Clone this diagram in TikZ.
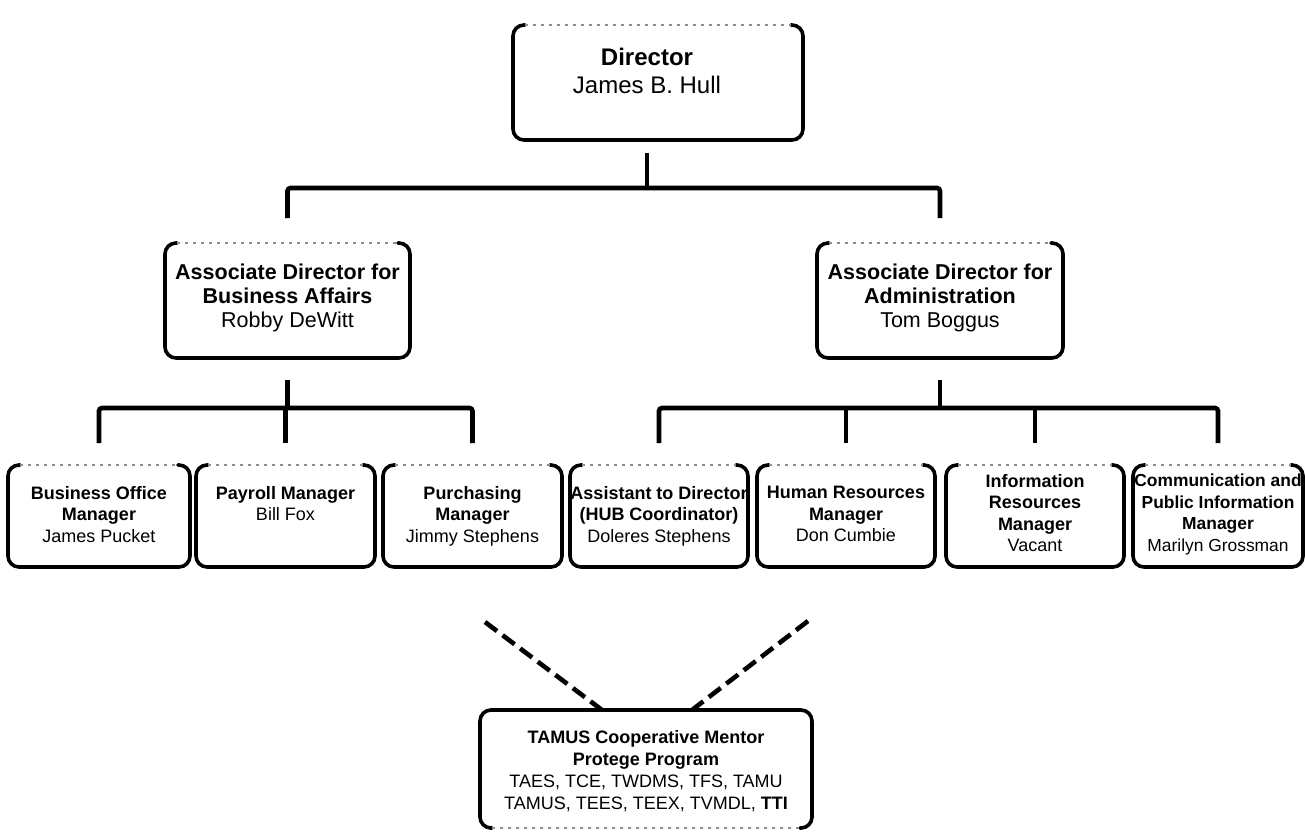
\documentclass[tikz,border=0pt]{standalone}
\usepackage{fontspec}
\setmainfont{Liberation Sans}
\usetikzlibrary{fit}
\tikzset{
  x=1pt,y=-1pt,
  boxnode/.style={draw=none,inner sep=0pt,outer sep=0pt},
  boxedge/.style={draw=black,line width=3.6pt,rounded corners=11pt,line cap=round},
  faintedge/.style={draw=black!45,line width=1.2pt,dash pattern=on 3pt off 5pt},
  conn/.style={draw=black,line width=4.6pt,rounded corners=3pt},
  dashline/.style={draw=black,line width=4.6pt,dash pattern=on 15pt off 7pt},
  txtd/.style={align=center,inner sep=0pt,anchor=north,font=\fontsize{24}{28}\selectfont},
  txta/.style={align=center,inner sep=0pt,anchor=north,font=\fontsize{21.5}{24}\selectfont},
  txtb/.style={align=center,inner sep=0pt,anchor=north,font=\fontsize{18}{21.5}\selectfont},
  txtc/.style={align=center,inner sep=0pt,anchor=north,font=\fontsize{17.4}{21.5}\selectfont},
  txtt/.style={align=center,inner sep=0pt,anchor=north,font=\fontsize{18}{22}\selectfont},
}
% box whose top edge is faint
\newcommand\orgbox[5]{%
  \coordinate (#1-a) at (#2,#3);
  \coordinate (#1-b) at (#4,#5);
  \node[boxnode,fit=(#1-a)(#1-b)] (#1) {};
  \draw[boxedge] ([xshift=12pt]#1.north west) -- (#1.north west) -- (#1.south west)
     -- (#1.south east) -- (#1.north east) -- ([xshift=-12pt]#1.north east);
  \draw[faintedge] ([xshift=12pt]#1.north west) -- ([xshift=-12pt]#1.north east);
}
% box whose bottom edge is faint
\newcommand\orgboxlow[5]{%
  \coordinate (#1-a) at (#2,#3);
  \coordinate (#1-b) at (#4,#5);
  \node[boxnode,fit=(#1-a)(#1-b)] (#1) {};
  \draw[boxedge] ([xshift=12pt]#1.south west) -- (#1.south west) -- (#1.north west)
     -- (#1.north east) -- (#1.south east) -- ([xshift=-12pt]#1.south east);
  \draw[faintedge] ([xshift=12pt]#1.south west) -- ([xshift=-12pt]#1.south east);
}
\begin{document}
\begin{tikzpicture}
\useasboundingbox (0,0) rectangle (1305,831);
\fill[white] (0,0) rectangle (1305,831);

% boxes
\orgbox{dir}{513}{25}{803}{140}
\orgbox{ad1}{165}{243}{410}{358}
\orgbox{ad2}{817}{243}{1063}{358}
\orgbox{b1}{8}{465}{190}{567}
\orgbox{b2}{196}{465}{375}{567}
\orgbox{b3}{383}{465}{562}{567}
\orgbox{b4}{570}{465}{748}{567}
\orgbox{b5}{757}{465}{935}{567}
\orgbox{b6}{946}{465}{1124}{567}
\orgbox{b7}{1133}{465}{1303}{567}
\orgboxlow{tam}{480}{710}{812}{828}

% texts
\node[txtd] (dir-t) at (647,48) {\textbf{Director}\\James B. Hull};
\node[txta] (ad1-t) at (287.5,264) {\textbf{Associate Director for}\\\textbf{Business Affairs}\\Robby DeWitt};
\node[txta] (ad2-t) at (940,264) {\textbf{Associate Director for}\\\textbf{Administration}\\Tom Boggus};
\node[txtb] (b1-t) at (99,486) {\textbf{Business Office}\\\textbf{Manager}\\James Pucket};
\node[txtb] (b2-t) at (285.5,486) {\textbf{Payroll Manager}\\Bill Fox};
\node[txtb] (b3-t) at (472.5,486) {\textbf{Purchasing}\\\textbf{Manager}\\Jimmy Stephens};
\node[txtb] (b4-t) at (659,486) {\textbf{Assistant to Director}\\\textbf{(HUB Coordinator)}\\Doleres Stephens};
\node[txtb] (b5-t) at (846,486) {\textbf{Human Resources}\\\textbf{Manager}\\Don Cumbie};
\node[txtb] (b6-t) at (1035,474) {\textbf{Information}\\\textbf{Resources}\\\textbf{Manager}\\Vacant};
\node[txtc] (b7-t) at (1218,474) {\textbf{Communication and}\\\textbf{Public Information}\\\textbf{Manager}\\Marilyn Grossman};
\node[txtt] (tam-t) at (646,730) {\textbf{TAMUS Cooperative Mentor}\\\textbf{Protege Program}\\TAES, TCE, TWDMS, TFS, TAMU\\TAMUS, TEES, TEEX, TVMDL, \textbf{TTI}};

% junction coordinates
\coordinate (j1) at (647,188);
\coordinate (j2) at ([yshift=-50pt]ad1.south);
\coordinate (j3) at ([yshift=-50pt]ad2.south);

% connectors level 1
\draw[conn] ([yshift=-13pt]dir.south -| j1) -- (j1);
\draw[conn] ([yshift=25pt]ad1.north) |- (j1) -| ([yshift=25pt]ad2.north);

% connectors level 2 left
\draw[conn] ([yshift=-22pt]ad1.south) -- (j2);
\draw[conn] ([yshift=22pt]b1.north) |- (j2) -| ([yshift=22pt]b3.north);
\draw[conn] ([yshift=22pt]b2.north) -- (b2.north |- j2);

% connectors level 2 right
\draw[conn] ([yshift=-22pt]ad2.south) -- (j3);
\draw[conn] ([yshift=22pt]b4.north) |- (j3) -| ([yshift=22pt]b7.north);
\draw[conn] ([yshift=22pt]b5.north) -- (b5.north |- j3);
\draw[conn] ([yshift=22pt]b6.north) -- (b6.north |- j3);

% dashed links
\coordinate (dl) at (485,622);
\coordinate (dr) at (808,621);
\draw[dashline] (dl) -- ([xshift=-44pt]tam.north);
\draw[dashline] (dr) -- ([xshift=46pt]tam.north);
\end{tikzpicture}
\end{document}
